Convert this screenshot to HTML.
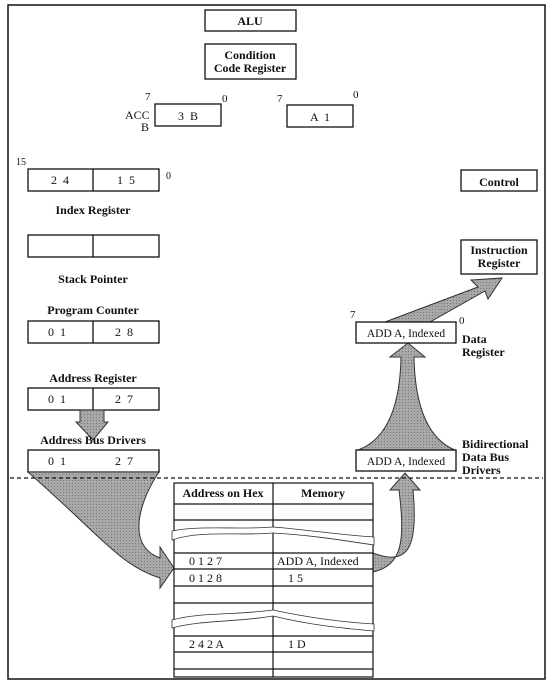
<!DOCTYPE html>
<html><head><meta charset="utf-8"><style>
html,body{margin:0;padding:0;background:#fff}
svg{display:block}
text{font-family:"Liberation Serif",serif;fill:#111}
.b{font-weight:bold}
</style></head><body>
<svg width="547" height="687" viewBox="0 0 547 687" xmlns="http://www.w3.org/2000/svg">
<defs>
<pattern id="st" width="3" height="3" patternUnits="userSpaceOnUse">
<rect width="3" height="3" fill="#a8a8a8"/><rect width="1" height="1" fill="#777"/>
</pattern>
</defs>
<rect x="8" y="5" width="537" height="674" fill="none" stroke="#111" stroke-width="1.5"/>
<g fill="none" stroke="#111" stroke-width="1.3">
<rect x="205" y="10" width="91" height="21"/>
<rect x="205" y="44" width="91" height="35"/>
<rect x="155" y="104" width="66" height="22"/>
<rect x="287" y="105" width="66" height="22"/>
<rect x="28" y="169" width="131" height="22"/><line x1="93" y1="169" x2="93" y2="191"/>
<rect x="461" y="170" width="76" height="21"/>
<rect x="28" y="235" width="131" height="22"/><line x1="93" y1="235" x2="93" y2="257"/>
<rect x="461" y="240" width="76" height="34"/>
<rect x="28" y="321" width="131" height="22"/><line x1="93" y1="321" x2="93" y2="343"/>
<rect x="28" y="388" width="131" height="22"/><line x1="93" y1="388" x2="93" y2="410"/>
<rect x="28" y="450" width="131" height="22"/>
</g>
<g fill="url(#st)" stroke="#333" stroke-width="1">
<path d="M385 322 L478 287 L471 280 L502 278 L488 299 L485 291 L430 322 Z"/>
<path d="M358 450 C385 440 400 410 401 357 L390 357 L408 343 L425 357 L414 357 C415 410 430 440 455 450 Z"/>
<path d="M80 410 L80 422 L76 422 L93 440 L108 422 L104 422 L104 410 Z"/>
<path d="M28 472 L159 472 C140 500 125 545 160 558 L160 547 L174 568 L160 588 L160 578 C120 565 105 540 28 472 Z"/>
<path d="M373 572 C403 565 405 540 399 490 L390 490 L405 473 L420 490 L413 490 C418 545 410 567 373 553 Z"/>
</g>
<line x1="10" y1="478" x2="543" y2="478" stroke="#111" stroke-width="1.2" stroke-dasharray="4,3"/>
<g fill="#fff" stroke="#111" stroke-width="1.3">
<rect x="356" y="322" width="100" height="21"/>
<rect x="356" y="450" width="100" height="21"/>
</g>
<g fill="none" stroke="#111" stroke-width="1.2">
<rect x="174" y="483" width="199" height="194" fill="#fff"/>
<line x1="273" y1="483" x2="273" y2="677"/>
<line x1="174" y1="504" x2="373" y2="504"/>
<line x1="174" y1="520" x2="373" y2="520"/>
<line x1="174" y1="553" x2="373" y2="553"/>
<line x1="174" y1="569" x2="373" y2="569"/>
<line x1="174" y1="586" x2="373" y2="586"/>
<line x1="174" y1="603" x2="373" y2="603"/>
<line x1="174" y1="636" x2="373" y2="636"/>
<line x1="174" y1="652" x2="373" y2="652"/>
<line x1="174" y1="669" x2="373" y2="669"/>
</g>
<path d="M172 531 C200 525 240 530 273 527 C310 530 340 535 374 537 L374 545 C340 540 310 535 273 533 C240 536 200 530 172 540 Z" fill="#fff" stroke="#333" stroke-width="0.8"/>
<path d="M172 620 C200 612 240 615 273 610 C310 618 340 622 374 624 L374 631 C340 628 310 625 273 616 C240 622 200 620 172 628 Z" fill="#fff" stroke="#333" stroke-width="0.8"/>
<g font-size="12">
<text x="250" y="25" text-anchor="middle" class="b">ALU</text>
<text x="250" y="59" text-anchor="middle" class="b">Condition</text>
<text x="250" y="72" text-anchor="middle" class="b">Code Register</text>
<text x="145" y="100" font-size="11">7</text><text x="222" y="102" font-size="11">0</text>
<text x="125" y="119">ACC</text><text x="141" y="131">B</text>
<text x="188" y="120" text-anchor="middle">3 &#160;B</text>
<text x="277" y="102" font-size="11">7</text><text x="353" y="98" font-size="11">0</text>
<text x="320" y="121" text-anchor="middle">A &#160;1</text>
<text x="16" y="165" font-size="10">15</text><text x="166" y="179" font-size="10">0</text>
<text x="60" y="184" text-anchor="middle">2 &#160;4</text>
<text x="126" y="184" text-anchor="middle">1 &#160;5</text>
<text x="93" y="214" text-anchor="middle" class="b">Index Register</text>
<text x="499" y="186" text-anchor="middle" class="b">Control</text>
<text x="93" y="283" text-anchor="middle" class="b">Stack Pointer</text>
<text x="499" y="254" text-anchor="middle" class="b">Instruction</text>
<text x="499" y="267" text-anchor="middle" class="b">Register</text>
<text x="93" y="314" text-anchor="middle" class="b">Program Counter</text>
<text x="57" y="336" text-anchor="middle">0 &#160;1</text>
<text x="124" y="336" text-anchor="middle">2 &#160;8</text>
<text x="350" y="318" font-size="11">7</text><text x="459" y="324" font-size="11">0</text>
<text x="406" y="337" text-anchor="middle" font-size="11.5">ADD A, Indexed</text>
<text x="462" y="343" class="b">Data</text>
<text x="462" y="356" class="b">Register</text>
<text x="93" y="382" text-anchor="middle" class="b">Address Register</text>
<text x="57" y="403" text-anchor="middle">0 &#160;1</text>
<text x="124" y="403" text-anchor="middle">2 &#160;7</text>
<text x="93" y="444" text-anchor="middle" class="b">Address Bus Drivers</text>
<text x="57" y="465" text-anchor="middle">0 &#160;1</text>
<text x="124" y="465" text-anchor="middle">2 &#160;7</text>
<text x="406" y="465" text-anchor="middle" font-size="11.5">ADD A, Indexed</text>
<text x="462" y="448" class="b">Bidirectional</text>
<text x="462" y="461" class="b">Data Bus</text>
<text x="462" y="474" class="b">Drivers</text>
<text x="223" y="497" text-anchor="middle" class="b">Address on Hex</text>
<text x="323" y="497" text-anchor="middle" class="b">Memory</text>
<text x="189" y="565">0 1 2 7</text>
<text x="277" y="565">ADD A, Indexed</text>
<text x="189" y="582">0 1 2 8</text>
<text x="288" y="582">1 5</text>
<text x="189" y="648">2 4 2 A</text>
<text x="288" y="648">1 D</text>
</g>
</svg>
</body></html>
